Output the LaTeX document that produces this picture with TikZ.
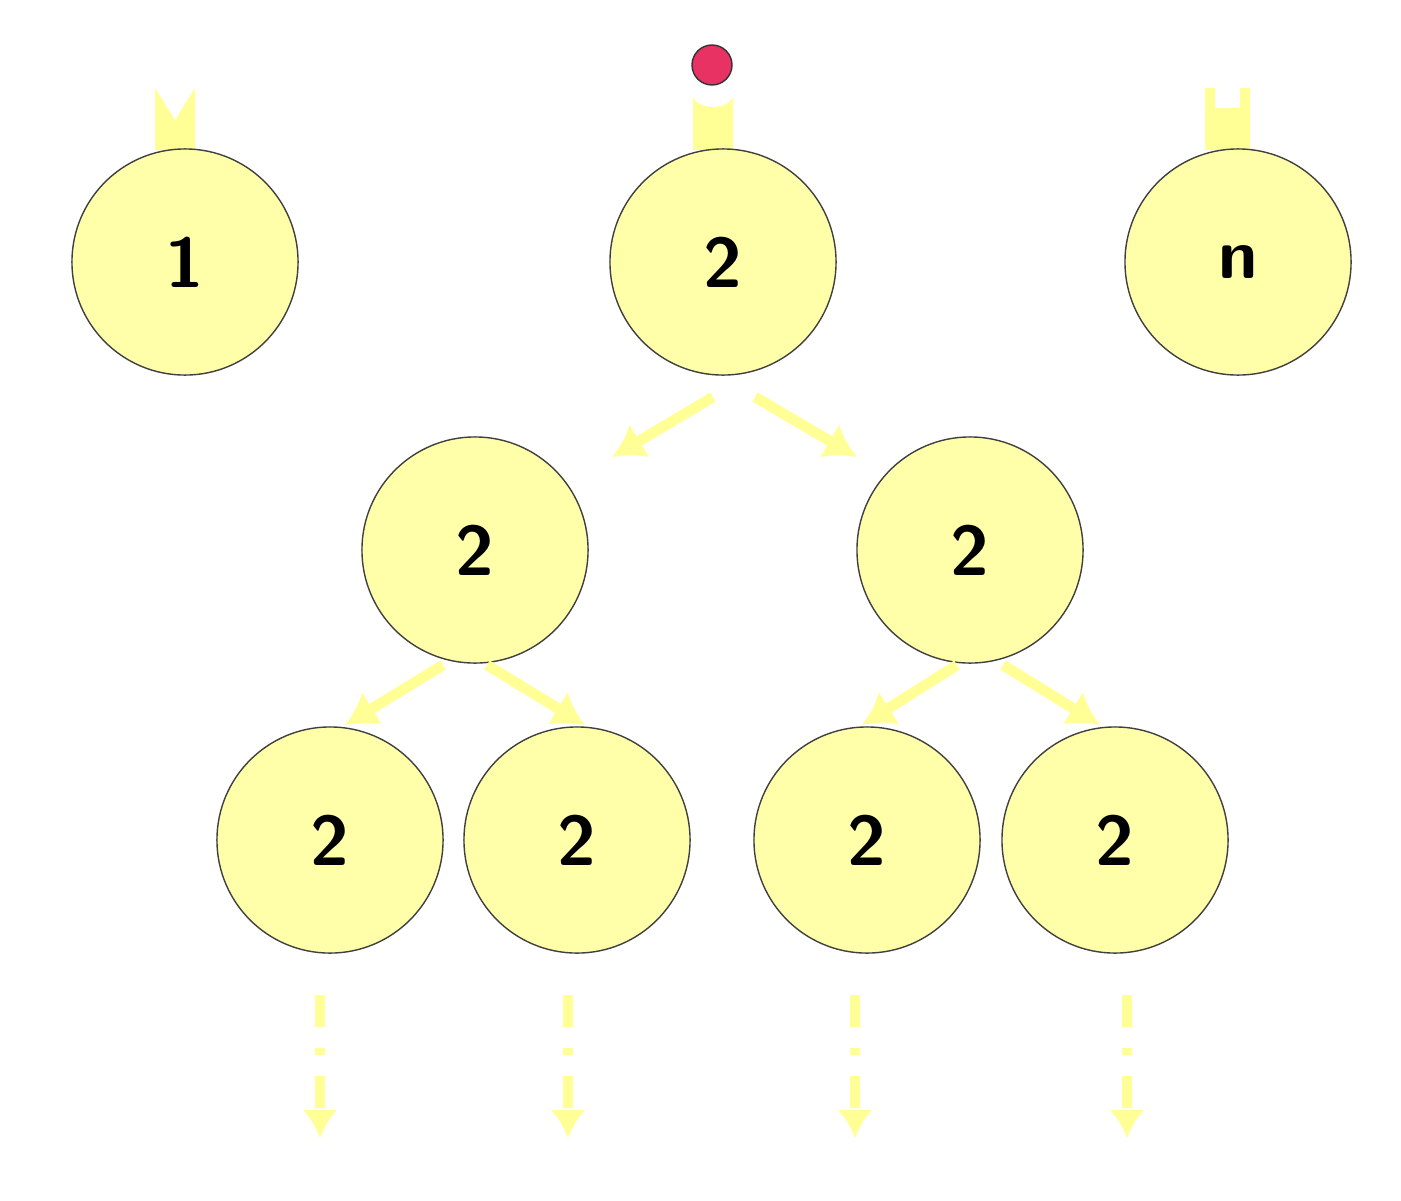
\documentclass[tikz,border=0pt]{standalone}
\usetikzlibrary{calc,arrows.meta}
\definecolor{cellfill}{RGB}{255,255,170}
\definecolor{armcol}{RGB}{255,255,150}
\definecolor{signal}{RGB}{232,50,100}
\begin{document}
\begin{tikzpicture}[x=0.01cm,y=-0.01cm,
  cell/.style={draw=black!75,fill=cellfill,circle,minimum size=2.26cm,inner sep=0pt,
    font=\fontsize{20}{24}\selectfont\sffamily\bfseries},
  split/.style={draw=armcol,line width=3pt,-{Latex[length=9pt,width=11pt]}},
  later/.style={draw=armcol,line width=3pt,dash pattern=on 9pt off 6pt on 2pt off 6pt,-{Latex[length=8pt,width=10pt]}}]
  \useasboundingbox (0,0) rectangle (1401,1200);
  % receptor stems
  \fill[armcol] (155,150) -- (155,88) -- (175,120) -- (195,88) -- (195,150) -- cycle;
  \fill[armcol] (693,150) -- (693,95) arc[start angle=180,end angle=360,x radius=20,y radius=-12] -- (733,150) -- cycle;
  \fill[armcol] (1205,150) -- (1205,88) -- (1215,88) -- (1215,108) -- (1240,108) -- (1240,88) -- (1250,88) -- (1250,150) -- cycle;
  \node[draw=black!80,fill=signal,circle,minimum size=0.4cm,inner sep=0pt] (ligand) at (712,65) {};
  % receptor cells
  \node[cell] (c1) at (185,262) {1};
  \node[cell] (c2) at (723,262) {2};
  \node[cell] (cn) at (1238,262) {n};
  % daughters
  \node[cell] (a) at (475,550) {2};
  \node[cell] (b) at (970,550) {2};
  \node[cell] (aa) at (330,840) {2};
  \node[cell] (ab) at (577,840) {2};
  \node[cell] (ba) at (867,840) {2};
  \node[cell] (bb) at (1115,840) {2};
  \draw[split] ($(c2)+(-10,135)$) -- ($(a)+(137,-93)$);
  \draw[split] ($(c2)+(32,135)$) -- ($(b)+(-113,-93)$);
  \draw[split] ($(a)+(-32,115)$) -- ($(aa)+(15,-115)$);
  \draw[split] ($(a)+(12,115)$) -- ($(ab)+(8,-115)$);
  \draw[split] ($(b)+(-13,115)$) -- ($(ba)+(-5,-115)$);
  \draw[split] ($(b)+(33,115)$) -- ($(bb)+(-15,-115)$);
  \foreach \n/\x in {aa/320,ab/568,ba/855,bb/1127}
    \draw[later] (\x,995) -- (\x,1138);
\end{tikzpicture}
\end{document}
